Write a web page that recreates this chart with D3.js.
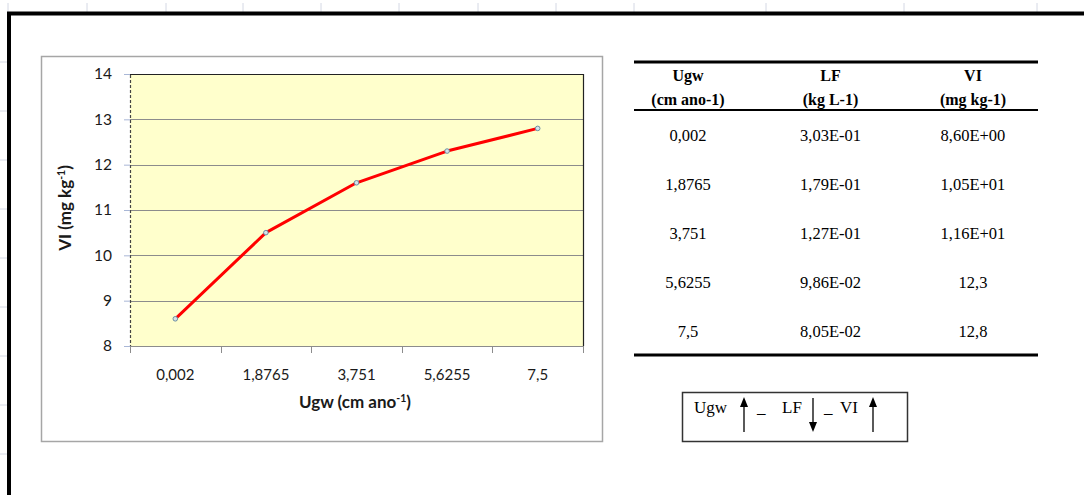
<!DOCTYPE html>
<html>
<head>
<meta charset="utf-8">
<script src="https://cdn.jsdelivr.net/npm/d3@7"></script>
<style>
  body { margin: 0; background: #fff; }
  svg { display: block; }
</style>
</head>
<body>
<div id="chart-area"></div>
<script>
// data
let categories = ["0,002", "1,8765", "3,751", "5,6255", "7,5"];
let viValues = [8.6, 10.5, 11.6, 12.3, 12.8];
let yTicks = [8, 9, 10, 11, 12, 13, 14];

let tableHead = [["Ugw", "(cm ano-1)"], ["LF", "(kg L-1)"], ["VI", "(mg kg-1)"]];
let colUgw = ["0,002", "1,8765", "3,751", "5,6255", "7,5"];
let colLF = ["3,03E-01", "1,79E-01", "1,27E-01", "9,86E-02", "8,05E-02"];
let colVI = ["8,60E+00", "1,05E+01", "1,16E+01", "12,3", "12,8"];

let sheetCols = [8, 87, 166, 243, 321, 399, 478, 556, 634, 766, 904, 1037];
let sheetRows = [62, 111, 160, 209, 258, 307, 356, 405, 454];

let svg = d3.select("#chart-area")
            .append("svg")
            .attr("width", 1084)
            .attr("height", 495);

// spreadsheet background bits
svg.selectAll(".colmark").data(sheetCols).enter().append("line")
   .attr("x1", d => d).attr("x2", d => d)
   .attr("y1", 3).attr("y2", 12)
   .attr("stroke", "#d4d8e4").attr("stroke-width", 1);
svg.selectAll(".rowmark").data(sheetRows).enter().append("line")
   .attr("x1", 0).attr("x2", 7)
   .attr("y1", d => d).attr("y2", d => d)
   .attr("stroke", "#d4d8e4").attr("stroke-width", 1);
svg.append("path")
   .attr("d", "M9,495 L9,13.5 L1084,13.5")
   .attr("fill", "none")
   .attr("stroke", "#000")
   .attr("stroke-width", 4);

// chart box
svg.append("rect")
   .attr("x", 41.5).attr("y", 56.5)
   .attr("width", 561).attr("height", 385)
   .attr("fill", "#fff")
   .attr("stroke", "#a6a6a6")
   .attr("stroke-width", 1.5);

let plot = { left: 130, right: 583, top: 74, bottom: 346 };
let sans = "Lato, 'Open Sans', sans-serif";

let x = d3.scaleBand()
          .domain(categories)
          .range([plot.left, plot.right])
          .padding(0);

let y = d3.scaleLinear()
          .domain([8, 14])
          .range([plot.bottom, plot.top]);

svg.append("rect")
   .attr("x", plot.left).attr("y", plot.top)
   .attr("width", plot.right - plot.left)
   .attr("height", plot.bottom - plot.top)
   .attr("fill", "#ffffcc");

// gridlines
svg.selectAll(".grid").data(yTicks.slice(1, -1)).enter().append("line")
   .attr("x1", plot.left).attr("x2", plot.right)
   .attr("y1", d => Math.round(y(d)) + 0.5).attr("y2", d => Math.round(y(d)) + 0.5)
   .attr("stroke", "#8c8c8c").attr("stroke-width", 1);

// top and right borders of plot
svg.append("path")
   .attr("d", `M${plot.left},${plot.top + 0.5} L${plot.right + 0.5},${plot.top + 0.5} L${plot.right + 0.5},${plot.bottom}`)
   .attr("fill", "none").attr("stroke", "#222").attr("stroke-width", 1.2);

// y axis
let yAxis = svg.append("g")
   .attr("transform", `translate(${plot.left},0)`)
   .call(d3.axisLeft(y).tickValues(yTicks).tickFormat(d3.format("d")).tickSize(6).tickPadding(12));
yAxis.select(".domain")
     .attr("stroke", "#444").attr("stroke-dasharray", "3,2").attr("stroke-width", 1.2);
yAxis.selectAll(".tick line").attr("stroke", "#a9b7d6");
yAxis.selectAll("text")
     .attr("font-family", sans)
     .attr("font-size", 15.5).attr("fill", "#1a1a1a");

// x axis
let xAxis = svg.append("g")
   .attr("transform", `translate(0,${plot.bottom})`)
   .call(d3.axisBottom(x).tickSize(0).tickPadding(23));
xAxis.select(".domain").attr("stroke", "#8c8c8c").attr("stroke-width", 1.2);
xAxis.selectAll("text")
     .attr("font-family", sans)
     .attr("font-size", 15).attr("fill", "#1a1a1a");
let bounds = categories.map(c => x(c)).concat([x.range()[1]]);
svg.selectAll(".xb").data(bounds).enter().append("line")
   .attr("x1", d => Math.round(d) + 0.5).attr("x2", d => Math.round(d) + 0.5)
   .attr("y1", plot.bottom).attr("y2", plot.bottom + 7)
   .attr("stroke", "#8c8c8c").attr("stroke-width", 1);

// axis titles
let xTitle = svg.append("text")
   .attr("x", 355).attr("y", 408)
   .attr("text-anchor", "middle")
   .attr("font-family", sans)
   .attr("font-size", 17).attr("font-weight", "bold").attr("fill", "#1a1a1a");
xTitle.append("tspan").text("Ugw (cm ano");
xTitle.append("tspan").attr("dy", -6).attr("font-size", 10.5).text("-1");
xTitle.append("tspan").attr("dy", 6).text(")");

let yTitle = svg.append("text")
   .attr("transform", "translate(71,208) rotate(-90)")
   .attr("text-anchor", "middle")
   .attr("font-family", sans)
   .attr("font-size", 17).attr("font-weight", "bold").attr("fill", "#1a1a1a");
yTitle.append("tspan").text("VI (mg kg");
yTitle.append("tspan").attr("dy", -6).attr("font-size", 10.5).text("-1");
yTitle.append("tspan").attr("dy", 6).text(")");

// line + markers
let pts = categories.map((c, i) => [x(c) + x.bandwidth() / 2, y(viValues[i])]);
svg.append("path")
   .attr("d", d3.line()(pts))
   .attr("fill", "none")
   .attr("stroke", "#ff0000")
   .attr("stroke-width", 3)
   .attr("stroke-linejoin", "round");
svg.selectAll(".dot").data(pts).enter().append("circle")
   .attr("cx", d => d[0]).attr("cy", d => d[1]).attr("r", 2.3)
   .attr("fill", "#d5e3ea").attr("stroke", "#6d8ea3").attr("stroke-width", 1);

// table
let serif = "'Liberation Serif', 'Times New Roman', serif";
let colX = d3.scalePoint().domain([0, 1, 2]).range([688, 973]);
let rowY = d3.scaleLinear().domain([0, 4]).range([141, 337]);

svg.append("line").attr("x1", 634).attr("x2", 1038).attr("y1", 62).attr("y2", 62)
   .attr("stroke", "#000").attr("stroke-width", 3);
svg.append("line").attr("x1", 634).attr("x2", 1038).attr("y1", 110).attr("y2", 110)
   .attr("stroke", "#000").attr("stroke-width", 2);
svg.append("line").attr("x1", 634).attr("x2", 1038).attr("y1", 355).attr("y2", 355)
   .attr("stroke", "#000").attr("stroke-width", 3);

tableHead.forEach((h, i) => {
  svg.append("text").attr("x", colX(i)).attr("y", 81)
     .attr("text-anchor", "middle").attr("font-family", serif)
     .attr("font-size", 16).attr("font-weight", "bold").text(h[0]);
  svg.append("text").attr("x", colX(i)).attr("y", 105)
     .attr("text-anchor", "middle").attr("font-family", serif)
     .attr("font-size", 16).attr("font-weight", "bold").text(h[1]);
});

[colUgw, colLF, colVI].forEach((col, ci) => {
  svg.selectAll(".c" + ci).data(col).enter().append("text")
     .attr("x", colX(ci)).attr("y", (d, i) => rowY(i))
     .attr("text-anchor", "middle").attr("font-family", serif)
     .attr("font-size", 16.5).text(d => d);
});

// relation box
svg.append("rect").attr("x", 682.5).attr("y", 392.5)
   .attr("width", 225).attr("height", 49)
   .attr("fill", "#fff").attr("stroke", "#333").attr("stroke-width", 1.5);

let boxText = [["Ugw", 694], ["_", 757], ["LF", 782], ["_", 824], ["VI", 840]];
svg.selectAll(".bt").data(boxText).enter().append("text")
   .attr("x", d => d[1]).attr("y", 413)
   .attr("font-family", serif).attr("font-size", 17)
   .text(d => d[0]);

let arrows = [[744, "up"], [813, "down"], [873, "up"]];
arrows.forEach(a => {
  let ax = a[0];
  svg.append("line").attr("x1", ax).attr("x2", ax)
     .attr("y1", a[1] === "up" ? 404 : 398).attr("y2", a[1] === "up" ? 432 : 425)
     .attr("stroke", "#000").attr("stroke-width", 1.3);
  let tri = a[1] === "up"
    ? `M${ax - 4},407 L${ax},397 L${ax + 4},407 Z`
    : `M${ax - 4},422 L${ax},432 L${ax + 4},422 Z`;
  svg.append("path").attr("d", tri).attr("fill", "#000");
});
</script>
</body>
</html>
